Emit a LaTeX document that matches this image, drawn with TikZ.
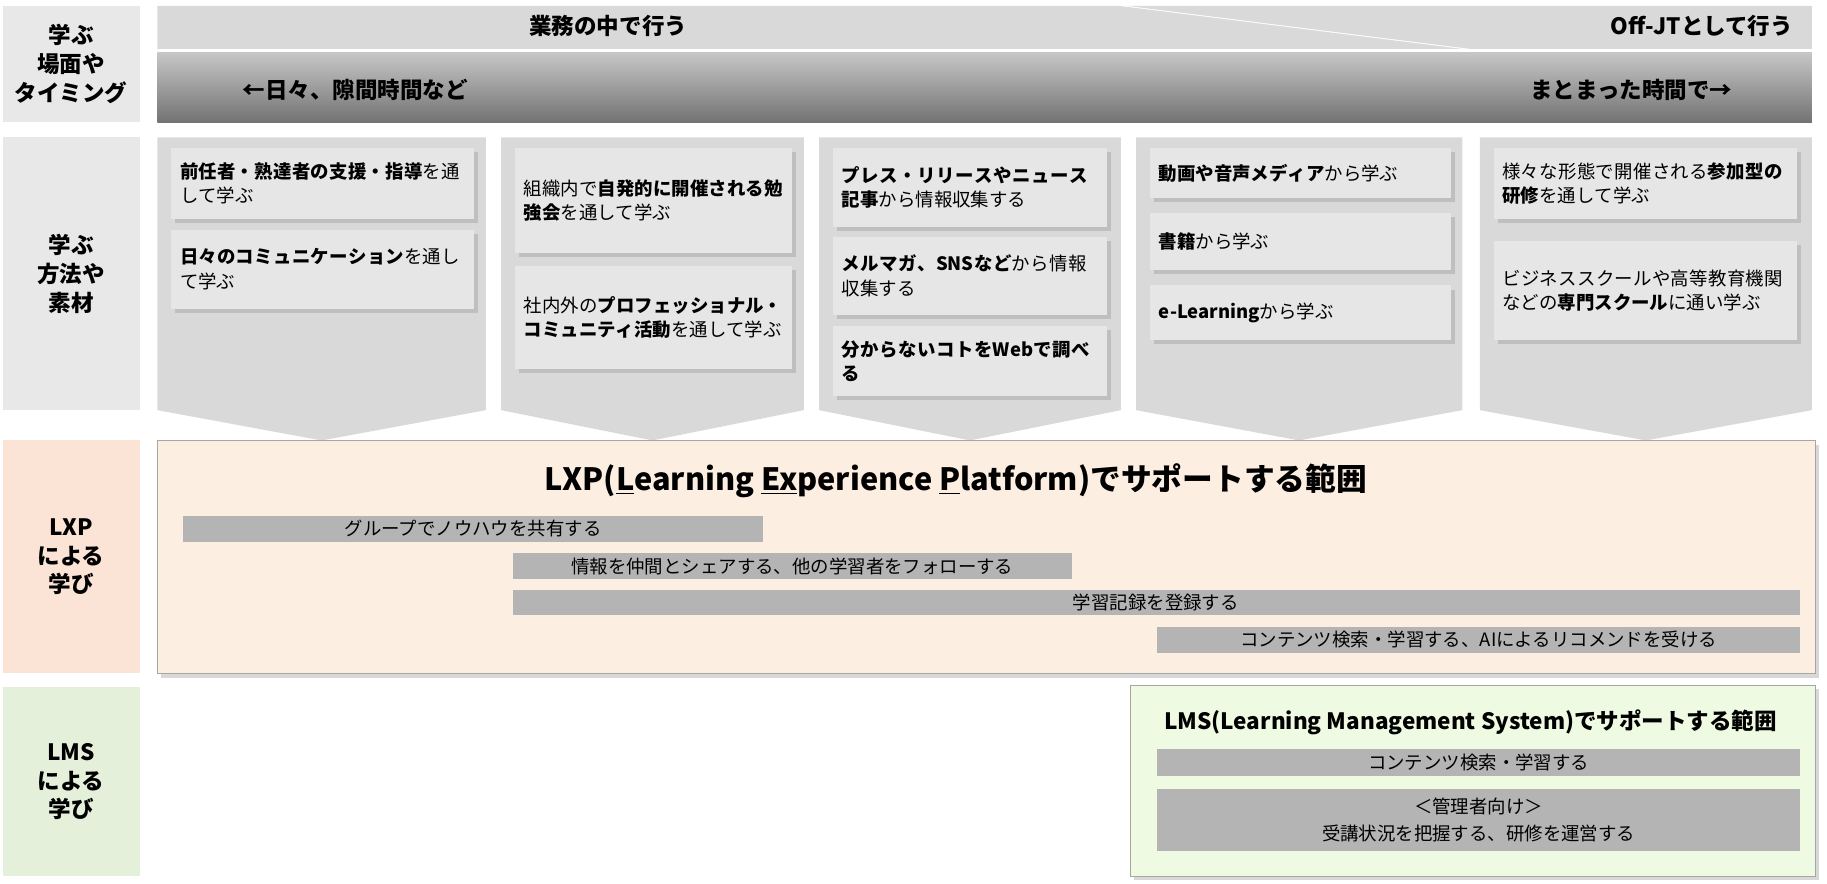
\documentclass[tikz,border=0pt]{standalone}
\usepackage{fontspec}
\setmainfont{Noto Sans CJK JP}
\XeTeXlinebreaklocale "ja"
\XeTeXlinebreakskip=0pt plus 1pt
\usetikzlibrary{shadows}
\definecolor{sidegray}{HTML}{E8E8E8}
\definecolor{colgray}{HTML}{D9D9D9}
\definecolor{boxgray}{HTML}{E6E6E6}
\definecolor{bargray}{HTML}{B4B4B4}
\definecolor{lxpfill}{HTML}{FDEEE2}
\definecolor{lxpside}{HTML}{FBE3D5}
\definecolor{lmsfill}{HTML}{EEFBE2}
\definecolor{lmsside}{HTML}{E4F0DA}
\tikzset{
  sidelabel/.style={font=\fontsize{11}{14}\selectfont\bfseries, align=center},
  subbox/.style={fill=boxgray, drop shadow={shadow xshift=2pt, shadow yshift=-2pt, fill=black!35},
    align=left, font=\fontsize{9}{12}\selectfont, inner sep=3pt},
  bar/.style={fill=bargray, font=\fontsize{9}{11}\selectfont, inner sep=0pt},
  chevron/.style={fill=colgray}
}
\begin{document}
\begin{tikzpicture}[x=0.02cm, y=-0.02cm]
\useasboundingbox (0,0) rectangle (1568,758);
% left column
\fill[sidegray] (3,5) rectangle (120,105);
\fill[sidegray] (3,118) rectangle (120,352);
\fill[lxpside] (3,378) rectangle (120,578);
\fill[lmsside] (3,590) rectangle (120,752);
\node[sidelabel] (lscene) at (61,55) {学ぶ\\場面や\\タイミング};
\node[sidelabel] (lmethod) at (61,235) {学ぶ\\方法や\\素材};
\node[sidelabel] (llxp) at (61,478) {LXP\\による\\学び};
\node[sidelabel] (llms) at (61,671) {LMS\\による\\学び};
% timing bands
\fill[colgray] (135,5) -- (960,5) -- (1255,42) -- (135,42) -- cycle;
\fill[colgray] (967,5) -- (1555,5) -- (1555,42) -- (1262,42) -- cycle;
\node[font=\fontsize{11}{13}\selectfont\bfseries] (work) at (522,22) {業務の中で行う};
\node[font=\fontsize{11}{13}\selectfont\bfseries, anchor=east] (offjt) at (1545,22) {Off-JTとして行う};
\shade[top color=black!22, bottom color=black!55] (135,45) rectangle (1555,105);
\node[font=\fontsize{11}{13}\selectfont\bfseries] (daily) at (305,77) {←日々、隙間時間など};
\node[font=\fontsize{11}{13}\selectfont\bfseries] (block) at (1400,77) {まとまった時間で→};
% method columns
\foreach \l/\r in {135/417, 430/690, 703/962, 975/1255, 1270/1555}
  \fill[chevron] (\l,118) -- (\r,118) -- (\r,352) -- ({(\l+\r)/2},378) -- (\l,352) -- cycle;
\node[subbox, minimum width=5.2cm, minimum height=1.22cm, text width=4.9cm] (m11) at (277,157.5) {\textbf{前任者・熟達者の支援・指導}を通して学ぶ};
\node[subbox, minimum width=5.2cm, minimum height=1.36cm, text width=4.9cm] (m12) at (277,231) {\textbf{日々のコミュニケーション}を通して学ぶ};
\node[subbox, minimum width=4.76cm, minimum height=1.8cm, text width=4.46cm] (m21) at (561,172) {組織内で\textbf{自発的に開催される勉強会}を通して学ぶ\\[1.1em]};
\node[subbox, minimum width=4.76cm, minimum height=1.78cm, text width=4.46cm] (m22) at (561,272.5) {社内外の\textbf{プロフェッショナル・コミュニティ活動}を通して学ぶ};
\node[subbox, minimum width=4.7cm, minimum height=1.36cm, text width=4.4cm] (m31) at (832.5,161) {\textbf{プレス・リリースやニュース記事}から情報収集する};
\node[subbox, minimum width=4.7cm, minimum height=1.34cm, text width=4.4cm] (m32) at (832.5,236.5) {\textbf{メルマガ、SNSなど}から情報収集する};
\node[subbox, minimum width=4.7cm, minimum height=1.2cm, text width=4.4cm] (m33) at (832.5,310) {\textbf{分からないコトをWebで調べる}};
\node[subbox, minimum width=5.16cm, minimum height=0.86cm, text width=4.86cm] (m41) at (1116,148.5) {\textbf{動画や音声メディア}から学ぶ};
\node[subbox, minimum width=5.16cm, minimum height=0.98cm, text width=4.86cm] (m42) at (1116,207.5) {\textbf{書籍}から学ぶ};
\node[subbox, minimum width=5.16cm, minimum height=0.94cm, text width=4.86cm] (m43) at (1116,268.5) {\textbf{e-Learning}から学ぶ};
\node[subbox, minimum width=5.2cm, minimum height=1.22cm, text width=4.9cm] (m51) at (1412,157.5) {様々な形態で開催される\textbf{参加型の研修}を通して学ぶ};
\node[subbox, minimum width=5.2cm, minimum height=1.7cm, text width=4.9cm] (m52) at (1412,249.5) {ビジネススクールや高等教育機関などの\textbf{専門スクール}に通い学ぶ};
% LXP
\draw[draw=black!35, fill=lxpfill, drop shadow={shadow xshift=2pt, shadow yshift=-2pt, fill=black!30}] (135,378) rectangle (1558,578);
\node[font=\fontsize{15}{18}\selectfont\bfseries] (lxptitle) at (820,413) {LXP(\underline{L}earning \underline{Ex}perience \underline{P}latform)でサポートする範囲};
\fill[bargray] (157,443) rectangle (655,465);
\node[bar, fill=none] (x1) at (406,454) {グループでノウハウを共有する};
\fill[bargray] (440,475) rectangle (920,497);
\node[bar, fill=none] (x2) at (680,486) {情報を仲間とシェアする、他の学習者をフォローする};
\fill[bargray] (440,506) rectangle (1545,528);
\node[bar, fill=none] (x3) at (992,517) {学習記録を登録する};
\fill[bargray] (993,538) rectangle (1545,560);
\node[bar, fill=none] (x4) at (1269,549) {コンテンツ検索・学習する、AIによるリコメンドを受ける};
% LMS
\draw[draw=black!35, fill=lmsfill, drop shadow={shadow xshift=2pt, shadow yshift=-2pt, fill=black!30}] (970,588) rectangle (1558,752);
\node[font=\fontsize{11}{14}\selectfont\bfseries] (lmstitle) at (1262,620) {LMS(Learning Management System)でサポートする範囲};
\fill[bargray] (993,643) rectangle (1545,666);
\node[bar, fill=none] (y1) at (1269,654.5) {コンテンツ検索・学習する};
\fill[bargray] (993,677) rectangle (1545,730);
\node[bar, fill=none, align=center, font=\fontsize{9}{13}\selectfont] (y2) at (1269,703.5) {＜管理者向け＞\\受講状況を把握する、研修を運営する};
\end{tikzpicture}
\end{document}
